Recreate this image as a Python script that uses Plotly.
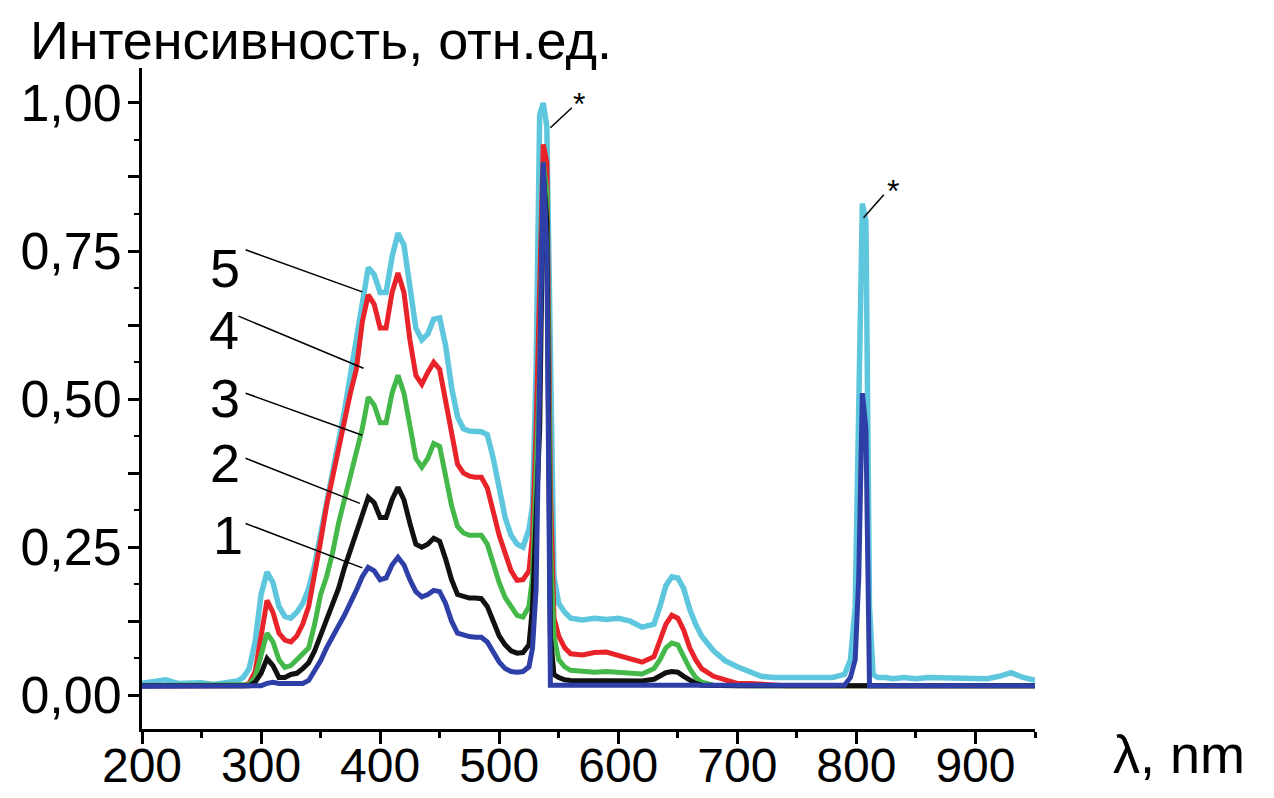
import plotly.graph_objects as go

# wavelength grid (nm)
wavelength = [200, 210, 220, 230, 240, 250, 260, 270, 280,
              285, 290, 295, 300, 305, 310, 315, 320, 325, 330, 335, 340, 345, 350, 355, 360,
              365, 370, 375, 380, 385, 390, 395, 400, 405, 410, 415, 420, 425, 430, 435, 440,
              445, 450, 455, 460, 465, 470, 475, 480, 485, 490, 495, 500, 505, 510, 515, 520, 525,
              528, 531, 534, 537, 540, 543, 546,
              550, 555, 560,
              570, 580, 590, 600, 610, 620, 630,
              635, 640, 645, 650, 655, 660, 665, 670,
              680, 690, 700, 710, 720, 730, 740, 750, 760, 770, 780, 790,
              795, 799, 802, 805, 808, 811, 814, 818,
              825, 830,
              840, 850, 860, 870, 880, 890, 900, 910, 920, 930, 940, 950]

curve5 = [0.020, 0.022, 0.026, 0.020, 0.020, 0.021, 0.018, 0.022, 0.024,
          0.030, 0.045, 0.090, 0.170, 0.208, 0.190, 0.150, 0.133, 0.130, 0.140, 0.155, 0.180, 0.220, 0.270, 0.320, 0.370,
          0.430, 0.480, 0.540, 0.600, 0.670, 0.722, 0.710, 0.680, 0.680, 0.740, 0.780, 0.760, 0.690, 0.620, 0.600, 0.610,
          0.635, 0.637, 0.590, 0.520, 0.470, 0.450, 0.446, 0.446, 0.445, 0.440, 0.400, 0.350, 0.300, 0.270, 0.255, 0.250, 0.280,
          0.320, 0.550, 0.980, 1.000, 0.960, 0.550, 0.200,
          0.155, 0.140, 0.130,
          0.127, 0.130, 0.128, 0.130, 0.125, 0.115, 0.120,
          0.150, 0.185, 0.200, 0.198, 0.180, 0.145, 0.120, 0.100,
          0.075, 0.058, 0.048, 0.040, 0.032, 0.030, 0.030, 0.030, 0.028, 0.030, 0.030, 0.035,
          0.060, 0.150, 0.500, 0.830, 0.800, 0.150, 0.035, 0.030,
          0.030, 0.028,
          0.030, 0.028, 0.030, 0.030, 0.028, 0.030, 0.030, 0.028, 0.032, 0.038, 0.030, 0.025]

curve4 = [0.016, 0.016, 0.016, 0.016, 0.016, 0.016, 0.016, 0.016, 0.016,
          0.016, 0.020, 0.040, 0.100, 0.160, 0.140, 0.105, 0.093, 0.090, 0.100, 0.120, 0.150, 0.200, 0.260, 0.320, 0.370,
          0.420, 0.470, 0.510, 0.550, 0.630, 0.676, 0.660, 0.620, 0.620, 0.680, 0.713, 0.680, 0.600, 0.540, 0.525, 0.545,
          0.562, 0.550, 0.500, 0.440, 0.390, 0.375, 0.370, 0.368, 0.368, 0.350, 0.310, 0.270, 0.240, 0.210, 0.194, 0.195, 0.210,
          0.270, 0.450, 0.700, 0.930, 0.900, 0.350, 0.130,
          0.100, 0.080, 0.070,
          0.068, 0.072, 0.073, 0.068, 0.062, 0.056, 0.065,
          0.090, 0.120, 0.135, 0.130, 0.110, 0.080, 0.060, 0.045,
          0.032, 0.025, 0.020, 0.020, 0.018, 0.016, 0.016, 0.016, 0.016, 0.016, 0.016, 0.016,
          0.016, 0.016, 0.016, 0.016, 0.016, 0.016, 0.016, 0.016,
          0.016, 0.016,
          0.016, 0.016, 0.016, 0.016, 0.016, 0.016, 0.016, 0.016, 0.016, 0.016, 0.016, 0.016]

curve3 = [0.016, 0.016, 0.016, 0.016, 0.016, 0.016, 0.016, 0.016, 0.016,
          0.016, 0.018, 0.030, 0.065, 0.105, 0.090, 0.060, 0.047, 0.050, 0.060, 0.070, 0.080, 0.120, 0.170, 0.200, 0.240,
          0.290, 0.330, 0.370, 0.410, 0.450, 0.503, 0.490, 0.460, 0.460, 0.510, 0.540, 0.510, 0.450, 0.400, 0.385, 0.400,
          0.425, 0.420, 0.370, 0.320, 0.285, 0.274, 0.270, 0.270, 0.270, 0.255, 0.220, 0.190, 0.165, 0.150, 0.135, 0.132, 0.150,
          0.200, 0.350, 0.550, 0.900, 0.850, 0.250, 0.100,
          0.060, 0.048, 0.042,
          0.040, 0.039, 0.040, 0.038, 0.037, 0.036, 0.045,
          0.060, 0.080, 0.088, 0.085, 0.065, 0.045, 0.030, 0.022,
          0.017, 0.016, 0.016, 0.016, 0.016, 0.016, 0.016, 0.016, 0.016, 0.016, 0.016, 0.016,
          0.016, 0.016, 0.016, 0.016, 0.016, 0.016, 0.016, 0.016,
          0.016, 0.016,
          0.016, 0.016, 0.016, 0.016, 0.016, 0.016, 0.016, 0.016, 0.016, 0.016, 0.016, 0.016]

curve2 = [0.016, 0.016, 0.016, 0.016, 0.016, 0.016, 0.016, 0.016, 0.016,
          0.016, 0.016, 0.022, 0.037, 0.062, 0.050, 0.030, 0.030, 0.035, 0.037, 0.045, 0.055, 0.075, 0.100, 0.125, 0.150,
          0.180, 0.215, 0.245, 0.280, 0.310, 0.334, 0.325, 0.300, 0.300, 0.330, 0.351, 0.330, 0.290, 0.255, 0.250, 0.255,
          0.265, 0.260, 0.230, 0.195, 0.170, 0.166, 0.164, 0.164, 0.163, 0.150, 0.125, 0.100, 0.085, 0.075, 0.071, 0.072, 0.085,
          0.150, 0.300, 0.450, 0.880, 0.800, 0.100, 0.035,
          0.030, 0.026, 0.025,
          0.025, 0.024, 0.025, 0.024, 0.024, 0.024, 0.027,
          0.033, 0.038, 0.040, 0.039, 0.032, 0.025, 0.020, 0.017,
          0.016, 0.016, 0.016, 0.016, 0.016, 0.016, 0.016, 0.016, 0.016, 0.016, 0.016, 0.016,
          0.016, 0.016, 0.016, 0.016, 0.016, 0.016, 0.016, 0.016,
          0.016, 0.016,
          0.016, 0.016, 0.016, 0.016, 0.016, 0.016, 0.016, 0.016, 0.016, 0.016, 0.016, 0.016]

curve1 = [0.015, 0.015, 0.015, 0.015, 0.015, 0.015, 0.015, 0.015, 0.015,
          0.015, 0.015, 0.015, 0.016, 0.020, 0.022, 0.020, 0.020, 0.020, 0.020, 0.020, 0.025, 0.040, 0.058, 0.080, 0.100,
          0.117, 0.135, 0.155, 0.177, 0.200, 0.216, 0.210, 0.195, 0.198, 0.220, 0.233, 0.220, 0.195, 0.175, 0.166, 0.170,
          0.177, 0.175, 0.155, 0.125, 0.105, 0.101, 0.099, 0.098, 0.098, 0.090, 0.072, 0.056, 0.045, 0.040, 0.039, 0.040, 0.048,
          0.080, 0.180, 0.500, 0.900, 0.750, 0.017, 0.017,
          0.017, 0.017, 0.017,
          0.017, 0.017, 0.017, 0.017, 0.017, 0.017, 0.017,
          0.017, 0.017, 0.017, 0.017, 0.017, 0.017, 0.017, 0.017,
          0.017, 0.017, 0.017, 0.017, 0.017, 0.017, 0.017, 0.017, 0.017, 0.017, 0.017, 0.017,
          0.030, 0.060, 0.200, 0.510, 0.450, 0.016, 0.016, 0.016,
          0.016, 0.016,
          0.016, 0.016, 0.016, 0.016, 0.016, 0.016, 0.016, 0.016, 0.016, 0.016, 0.016, 0.016]

series_names = ["5", "4", "3", "2", "1"]
series_values = [curve5, curve4, curve3, curve2, curve1]
series_colors = ["#5ec7dd", "#e8232a", "#45b84a", "#111111", "#2f3fa8"]
series_widths = [5.5, 5, 5, 5, 5]

y_tickvals = [0, 0.125, 0.25, 0.375, 0.5, 0.625, 0.75, 0.875, 1.0]
y_ticktext = ["0,00", "", "0,25", "", "0,50", "", "0,75", "", "1,00"]
x_tickvals = [200, 300, 400, 500, 600, 700, 800, 900]

# curve number labels: (text, label x, label y, line start x, line start y, line end x, line end y)
curve_labels = [
    ("5", 270, 0.722, 287, 0.752, 385, 0.681),
    ("4", 269, 0.617, 281, 0.640, 386, 0.552),
    ("3", 270, 0.502, 287, 0.510, 385, 0.439),
    ("2", 270, 0.392, 287, 0.400, 383, 0.324),
    ("1", 272, 0.270, 287, 0.290, 385, 0.215),
]
# asterisk marks: (star x, star y, line start x, line start y, line end x, line end y)
star_labels = [
    (567, 0.998, 543, 0.958, 561, 0.992),
    (831, 0.852, 806, 0.806, 823, 0.845),
]

FONT = "Liberation Sans, Arial, sans-serif"

W, H = 1274, 798
ml, mr, mt, mb = 142, 239, 68, 69
pw, ph = W - ml - mr, H - mt - mb


def px_to_paper(px, py):
    return (px - ml) / pw, 1 - (py - mt) / ph


fig = go.Figure()
for name, vals, col, w in zip(series_names, series_values, series_colors, series_widths):
    fig.add_trace(go.Scatter(x=wavelength, y=vals, mode="lines", name=name,
                             line=dict(color=col, width=w, shape="linear"),
                             showlegend=False, hoverinfo="skip"))

for txt, lx, ly, x0, y0, x1, y1 in curve_labels:
    fig.add_annotation(x=lx, y=ly, xref="x", yref="y", text=txt, showarrow=False,
                       font=dict(family=FONT, size=54, color="black"))
    fig.add_shape(type="line", xref="x", yref="y", x0=x0, y0=y0, x1=x1, y1=y1,
                  line=dict(color="black", width=1.5))

for sx, sy, x0, y0, x1, y1 in star_labels:
    fig.add_annotation(x=sx, y=sy, xref="x", yref="y", text="*", showarrow=False,
                       font=dict(family=FONT, size=32, color="black"))
    fig.add_shape(type="line", xref="x", yref="y", x0=x0, y0=y0, x1=x1, y1=y1,
                  line=dict(color="black", width=1.5))

ax, ay = px_to_paper(28, 40)
fig.add_annotation(x=ax, y=ay, xref="paper", yref="paper", text="Интенсивность, отн.ед.",
                   xanchor="left", yanchor="middle",
                   showarrow=False, font=dict(family=FONT, size=54, color="black"))
bx, by = px_to_paper(1179, 754)
fig.add_annotation(x=bx, y=by, xref="paper", yref="paper", text="λ, nm",
                   xanchor="center", yanchor="middle",
                   showarrow=False, font=dict(family=FONT, size=54, color="black"))

fig.update_layout(
    width=W, height=H,
    margin=dict(l=ml, r=mr, t=mt, b=mb, pad=0),
    paper_bgcolor="white", plot_bgcolor="white",
    font=dict(family=FONT, color="black"),
    xaxis=dict(range=[200, 950], showgrid=False, zeroline=False, automargin=False,
               showline=True, linecolor="black", linewidth=3,
               ticks="outside", ticklen=12, tickwidth=2.5, tickcolor="black",
               tickvals=x_tickvals, tickfont=dict(size=48, family=FONT),
               ticklabelstandoff=-20,
               minor=dict(dtick=50, tick0=200, ticks="outside", ticklen=6, tickwidth=2.5,
                          tickcolor="black", showgrid=False)),
    yaxis=dict(range=[-0.057, 1.059], showgrid=False, zeroline=False, automargin=False,
               showline=True, linecolor="black", linewidth=3,
               ticks="outside", ticklen=11, tickwidth=2.5, tickcolor="black",
               tickvals=y_tickvals, ticktext=y_ticktext, tickfont=dict(size=52, family=FONT),
               ticklabelstandoff=-4,
               minor=dict(dtick=0.0625, tick0=0, ticks="outside", ticklen=5, tickwidth=2,
                          tickcolor="black", showgrid=False)),
)

fig.write_html("out.html")
